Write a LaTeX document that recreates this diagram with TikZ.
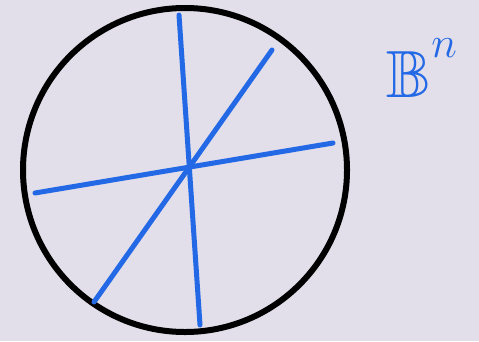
\documentclass[tikz,border=0pt]{standalone}
\usepackage{amssymb}
\usepackage{tikz}
\usetikzlibrary{positioning}
\definecolor{paper}{RGB}{226,222,234}
\definecolor{penblue}{RGB}{35,105,230}

\begin{document}
\begin{tikzpicture}[
      x=0.2mm, y=-0.2mm,
      rim/.style={draw=black, line width=1.2mm},
      diam/.style={draw=penblue, line width=1mm, line cap=round},
      every node/.style={text=penblue, inner sep=0pt}
    ]
      \fill[paper] (0,0) rectangle (479,341);
      \useasboundingbox (0,0) rectangle (479,341);
      \draw[rim] (185,170) ellipse (162 and 162);
      % three diameters
      \coordinate (v1) at (179,15);
      \coordinate (v2) at (200,325);
      \coordinate (d1) at (272,50);
      \coordinate (d2) at (94,302);
      \coordinate (h1) at (333,143);
      \coordinate (h2) at (35,193);
      \draw[diam] (v1) -- (v2);
      \draw[diam] (d1) -- (d2);
      \draw[diam] (h1) -- (h2);
      \node (ball) at (422,68) {\fontsize{38}{42}\selectfont$\mathbb{B}$\raisebox{0.6em}{\fontsize{30}{32}\selectfont$n$}};
    \end{tikzpicture}
\end{document}
